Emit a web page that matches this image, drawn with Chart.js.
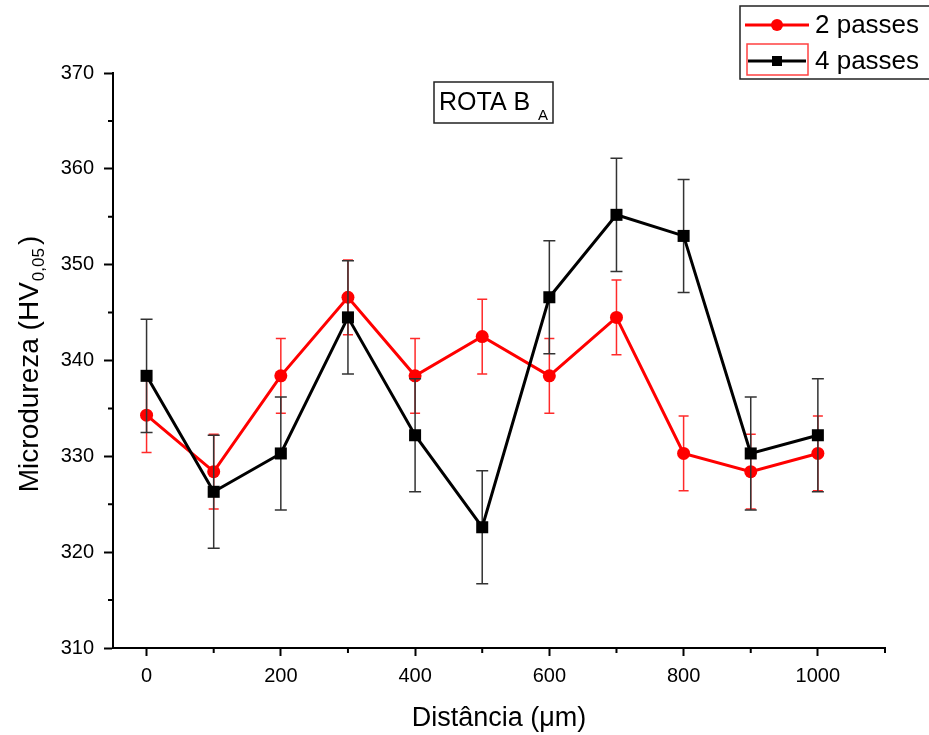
<!DOCTYPE html>
<html>
<head>
<meta charset="utf-8">
<title>Rota BA</title>
<script src="https://cdn.jsdelivr.net/npm/chart.js@4.4.1/dist/chart.umd.min.js"></script>
<style>
    body { margin: 0; background: #fff; }
    #wrap { width: 929px; height: 735px; }
</style>
</head>
<body>
<div id="wrap"><canvas id="rota_chart" width="929" height="735"></canvas></div>
<script>
// data
const distancias = [0, 100, 200, 300, 400, 500, 600, 700, 800, 900, 1000];
const passes2 = [334.3, 328.4, 338.4, 346.6, 338.4, 342.5, 338.4, 344.5, 330.3, 328.4, 330.3];
const erro2 = [3.9, 3.9, 3.9, 3.9, 3.9, 3.9, 3.9, 3.9, 3.9, 3.9, 3.9];
const passes4 = [338.4, 326.3, 330.3, 344.5, 332.2, 322.6, 346.6, 355.2, 353.0, 330.3, 332.2];
const erro4 = [5.9, 5.9, 5.9, 5.9, 5.9, 5.9, 5.9, 5.9, 5.9, 5.9, 5.9];
const xMajor = [0, 200, 400, 600, 800, 1000];
const xMinor = [100, 300, 500, 700, 900, 1100];
const yMinor = [315, 325, 335, 345, 355, 365];
const serieNomes = ["2 passes", "4 passes"];

const FONT = "'Liberation Sans', Arial, sans-serif";

function pontos(ys) {
    return distancias.map(function(d, i) { return { x: d, y: ys[i] }; });
}

// error bars, drawn just before each dataset so markers sit on top
const errorBars = {
    id: 'errorBars',
    beforeDatasetDraw: function(chart, args) {
        const ds = chart.data.datasets[args.index];
        if (!ds.erros) return;
        const ctx = chart.ctx;
        const yScale = chart.scales.y;
        ctx.save();
        ctx.strokeStyle = ds.corErro;
        ctx.lineWidth = 1.5;
        args.meta.data.forEach(function(pt, i) {
            const v = ds.data[i].y;
            const e = ds.erros[i];
            const top = yScale.getPixelForValue(v + e);
            const bot = yScale.getPixelForValue(v - e);
            const x = pt.x;
            ctx.beginPath();
            ctx.moveTo(x, top); ctx.lineTo(x, bot);
            ctx.moveTo(x - ds.cap, top); ctx.lineTo(x + ds.cap, top);
            ctx.moveTo(x - ds.cap, bot); ctx.lineTo(x + ds.cap, bot);
            ctx.stroke();
        });
        ctx.restore();
    }
};

// minor ticks, y title with subscript, ROTA box and legend box
const extras = {
    id: 'extras',
    afterDraw: function(chart) {
        const ctx = chart.ctx;
        const xs = chart.scales.x, ys = chart.scales.y;
        const area = chart.chartArea;
        ctx.save();
        ctx.strokeStyle = '#000';
        ctx.lineWidth = 2;
        ctx.beginPath();
        xMinor.forEach(function(v) {
            const px = xs.getPixelForValue(v);
            ctx.moveTo(px, area.bottom); ctx.lineTo(px, area.bottom + 5);
        });
        yMinor.forEach(function(v) {
            const py = ys.getPixelForValue(v);
            ctx.moveTo(area.left, py); ctx.lineTo(area.left - 5, py);
        });
        ctx.stroke();

        // y axis title
        ctx.fillStyle = '#000';
        ctx.textBaseline = 'alphabetic';
        ctx.textAlign = 'left';
        const f1 = '28px ' + FONT, f2 = '17px ' + FONT;
        const t1 = 'Microdureza (HV', t2 = '0,05', t3 = ')';
        ctx.font = f1; const w1 = ctx.measureText(t1).width; const w3 = ctx.measureText(t3).width;
        ctx.font = f2; const w2 = ctx.measureText(t2).width;
        const total = w1 + w2 + w3 + 4;
        ctx.translate(38, 364);
        ctx.rotate(-Math.PI / 2);
        let cx = -total / 2;
        ctx.font = f1; ctx.fillText(t1, cx, 0); cx += w1 + 1;
        ctx.font = f2; ctx.fillText(t2, cx, 6); cx += w2 + 3;
        ctx.font = f1; ctx.fillText(t3, cx, 0);
        ctx.setTransform(1, 0, 0, 1, 0, 0);

        // ROTA BA box
        ctx.lineWidth = 1.5;
        ctx.strokeStyle = '#222';
        ctx.strokeRect(434, 82, 119, 41);
        ctx.font = '25px ' + FONT;
        ctx.fillText('ROTA B', 439, 110);
        ctx.font = '15px ' + FONT;
        ctx.fillText('A', 538, 120);

        // legend box
        ctx.strokeStyle = '#222';
        ctx.strokeRect(740, 6, 200, 73);
        ctx.lineWidth = 3;
        ctx.strokeStyle = '#ff0000';
        ctx.beginPath(); ctx.moveTo(745, 25); ctx.lineTo(809, 25); ctx.stroke();
        ctx.fillStyle = '#ff0000';
        ctx.beginPath(); ctx.arc(777, 25, 6, 0, Math.PI * 2); ctx.fill();
        ctx.strokeStyle = '#000';
        ctx.beginPath(); ctx.moveTo(748, 61); ctx.lineTo(806, 61); ctx.stroke();
        ctx.fillStyle = '#000';
        ctx.fillRect(772, 56, 10, 10);
        ctx.lineWidth = 1.5;
        ctx.strokeStyle = '#ff4040';
        ctx.strokeRect(747, 44, 61, 31);
        ctx.fillStyle = '#000';
        ctx.font = '26px ' + FONT;
        ctx.textBaseline = 'middle';
        ctx.fillText(serieNomes[0], 815, 26);
        ctx.fillText(serieNomes[1], 815, 62);
        ctx.restore();
    }
};

const rota_chart = document.getElementById('rota_chart').getContext('2d');
new Chart(rota_chart, {
    type: 'line',
    data: {
        datasets: [{
            label: serieNomes[1],
            data: pontos(passes4),
            erros: erro4,
            corErro: '#333',
            cap: 6,
            borderColor: '#000',
            backgroundColor: '#000',
            borderWidth: 3,
            pointStyle: 'rect',
            pointRadius: 8.5,
            pointBorderWidth: 0,
            pointBackgroundColor: '#000',
            tension: 0
        }, {
            label: serieNomes[0],
            data: pontos(passes2),
            erros: erro2,
            corErro: '#ff2a2a',
            cap: 5,
            borderColor: '#ff0000',
            backgroundColor: '#ff0000',
            borderWidth: 3,
            pointStyle: 'circle',
            pointRadius: 6.5,
            pointBorderWidth: 0,
            pointBackgroundColor: '#ff0000',
            tension: 0
        }]
    },
    options: {
        responsive: false,
        animation: false,
        layout: { padding: { left: 0, top: 73, right: 44, bottom: 0 } },
        plugins: {
            legend: { display: false },
            tooltip: { enabled: false }
        },
        scales: {
            x: {
                type: 'linear',
                min: -50,
                max: 1100,
                afterBuildTicks: function(scale) {
                    scale.ticks = xMajor.map(function(v) { return { value: v }; });
                },
                afterFit: function(scale) { scale.height = 87; },
                ticks: {
                    color: '#000',
                    font: { family: FONT, size: 20 },
                    padding: 8,
                    maxRotation: 0,
                    callback: function(value) { return String(value); }
                },
                grid: { drawOnChartArea: false, drawTicks: true, tickLength: 8, tickWidth: 2, tickColor: '#000' },
                border: { display: true, color: '#000', width: 2 },
                title: {
                    display: true,
                    text: 'Distância (μm)',
                    color: '#000',
                    font: { family: FONT, size: 27 },
                    padding: { top: 10, bottom: 0 }
                }
            },
            y: {
                min: 310,
                max: 370,
                afterFit: function(scale) { scale.width = 113; },
                ticks: {
                    stepSize: 10,
                    color: '#000',
                    font: { family: FONT, size: 20 },
                    padding: 10
                },
                grid: { drawOnChartArea: false, drawTicks: true, tickLength: 9, tickWidth: 2, tickColor: '#000' },
                border: { display: true, color: '#000', width: 2 }
            }
        }
    },
    plugins: [errorBars, extras]
});
</script>
</body>
</html>
